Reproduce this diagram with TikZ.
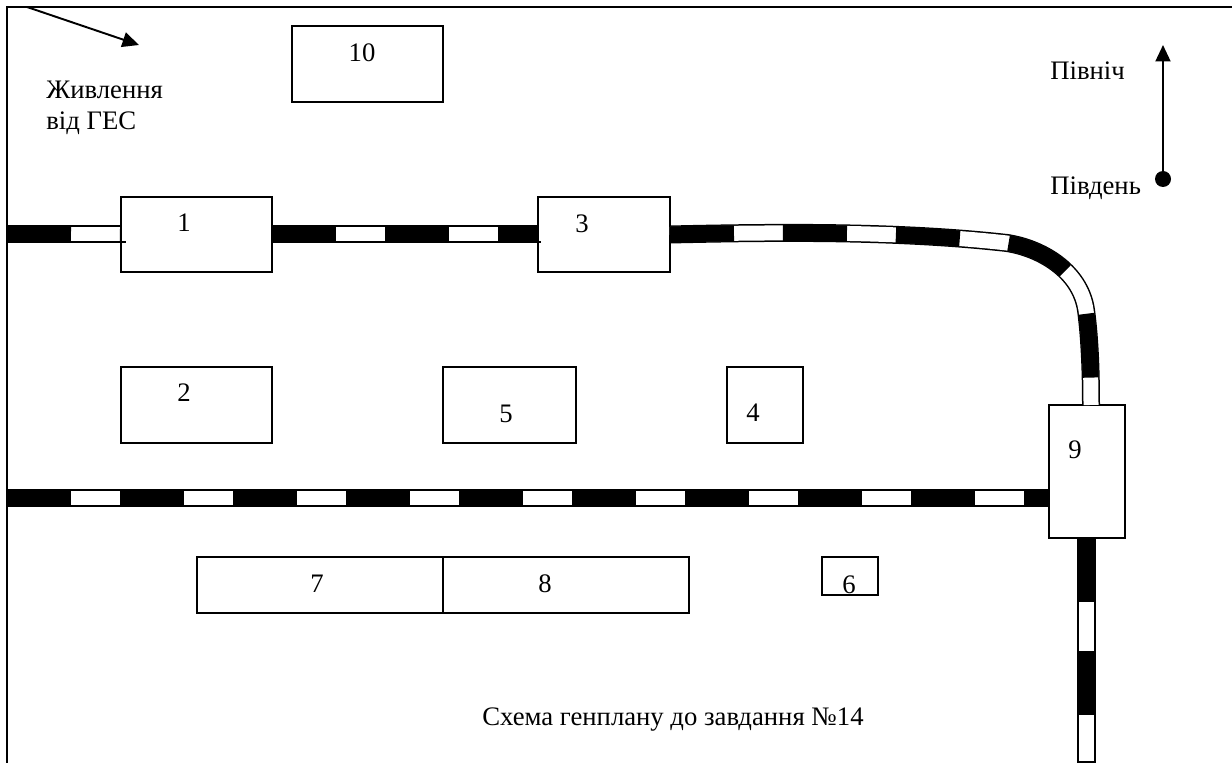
\documentclass[tikz,border=0pt]{standalone}
\usepackage{fontspec}
\setmainfont{Liberation Serif}
\usetikzlibrary{positioning, arrows.meta}

\begin{document}
\begin{tikzpicture}[
        x=0.02cm, y=-0.02cm,
        every node/.style={font=\fontsize{15.2}{18.1}\selectfont},
        plotbox/.style={rectangle, draw=black, line width=0.8pt, inner sep=0pt, outer sep=0pt},
        caption/.style={align=left, inner sep=0pt, anchor=base west},
        railedge/.style={draw=black, line width=0.7pt},
        railside/.style={draw=black, line width=0.36cm},
        railgap/.style={draw=white, line width=0.3cm},
        railbar/.style={draw=black, line width=0.32cm, dash pattern=on 1.28cm off 0.98cm},
        arrow/.style={line width=1.1pt,-{Triangle[length=0.33cm,width=0.3cm]}}
    ]
    \useasboundingbox (0,0) rectangle (1232,763);

    % Frame
    \draw [line width=0.8pt] (7,763) -- (7,7) -- (1232,7);

    % Rail ends
    \coordinate (leftA) at (7,234);
    \coordinate (leftB) at (7,498);
    \coordinate (bottomEnd) at (1087,762);

    % Buildings
    \node (box1) [plotbox, minimum width=3.02cm, minimum height=1.5cm] at (196.5,234.5) {};
    \node (box2) [plotbox, minimum width=3.02cm, minimum height=1.52cm] at (196.5,405) {};
    \node (box3) [plotbox, minimum width=2.64cm, minimum height=1.5cm] at (604,234.5) {};
    \node (box4) [plotbox, minimum width=1.52cm, minimum height=1.52cm] at (765,405) {};
    \node (box5) [plotbox, minimum width=2.66cm, minimum height=1.52cm] at (509.5,405) {};
    \node (box6) [plotbox, minimum width=1.12cm, minimum height=0.76cm] at (850,576) {};
    \node (box7) [plotbox, minimum width=4.92cm, minimum height=1.12cm] at (320,585) {};
    \node (box8) [plotbox, minimum width=4.92cm, minimum height=1.12cm] at (566,585) {};
    \node (box9) [plotbox, minimum width=1.52cm, minimum height=2.66cm] at (1087,471.5) {};
    \node (box10) [plotbox, minimum width=3.02cm, minimum height=1.52cm] at (367.5,64) {};

    % Numbers
    \node (num1) at (184,223) {1};
    \node (num2) at (184,393) {2};
    \node (num3) at (582,224) {3};
    \node (num4) at (753,413) {4};
    \node (num5) at (506,414) {5};
    \node (num6) at (849,585) {6};
    \node (num7) at (317,584) {7};
    \node (num8) at (545,584) {8};
    \node (num9) at (1075,450) {9};
    \node (num10) at (362,53) {10};

    % Rails
    \draw [railedge] (leftA |- 0,226) -- (box1.west |- 0,226);
    \draw [railedge] (leftA |- 0,242) -- (126,242);
    \draw [railbar] (leftA) -- (box1.west);
    \draw [railedge] (box1.east |- 0,226) -- (box3.west |- 0,226);
    \draw [railedge] (box1.east |- 0,242) -- (541,242);
    \draw [railbar] (box1.east) -- (box3.west);
    \draw [railside] (box3.east) .. controls (780,232) and (900,231) .. (1007,243)
        .. controls (1040,248) and (1080,270) .. (1086,310)
        .. controls (1090,340) and (1091,375) .. (1091,405);
    \draw [railgap] (box3.east) .. controls (780,232) and (900,231) .. (1007,243)
        .. controls (1040,248) and (1080,270) .. (1086,310)
        .. controls (1090,340) and (1091,375) .. (1091,405);
    \draw [railbar] (box3.east) .. controls (780,232) and (900,231) .. (1007,243)
        .. controls (1040,248) and (1080,270) .. (1086,310)
        .. controls (1090,340) and (1091,375) .. (1091,405);
    \draw [railedge] (leftB |- 0,490) -- (box9.west |- 0,490);
    \draw [railedge] (leftB |- 0,506) -- (box9.west |- 0,506);
    \draw [railbar] (leftB) -- (box9.west |- leftB);
    \draw [railedge] (1078,539) -- (1078,762) -- (1095,762) -- (1095,539);
    \draw [railbar] (box9.south -| bottomEnd) -- (bottomEnd);

    % Supply arrow
    \coordinate (supplyStart) at (27,7);
    \coordinate (supplyEnd) at (139,45);
    \draw [arrow] (supplyStart) -- (supplyEnd);
    \node (supply) [caption] at (46,130) {Живлення\\від ГЕС};

    % Compass
    \node (south) [circle, fill=black, minimum size=0.32cm, inner sep=0pt] at (1163,179) {};
    \coordinate (northTip) at (1163,45);
    \draw [arrow] (south) -- (northTip);
    \node (northText) [caption] at (1050,80) {Північ};
    \node (southText) [caption] at (1050,195) {Південь};

    % Title
    \node (title) [caption] at (482,725) {Схема генплану до завдання №14};
\end{tikzpicture}
\end{document}
